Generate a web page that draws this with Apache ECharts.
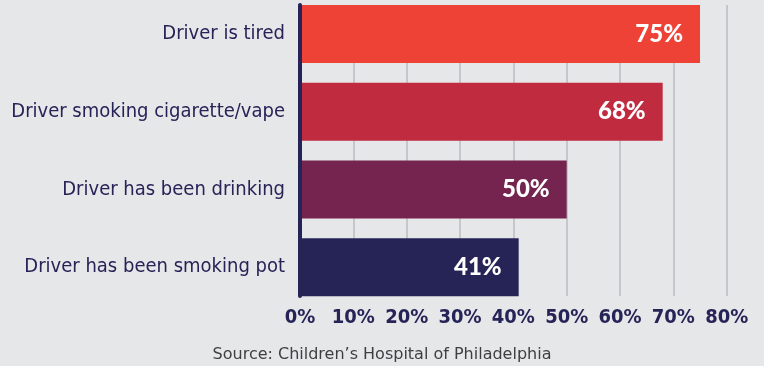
<!DOCTYPE html>
<html>
<head>
<meta charset="utf-8">
<script src="https://cdn.jsdelivr.net/npm/echarts@6/dist/echarts.min.js"></script>
<style>
  html, body { margin: 0; padding: 0; background: #e6e7e9; }
  #chart { width: 764px; height: 366px; }
</style>
</head>
<body>
<div id="chart"></div>
<script>
// 数据
var categories = ['Driver is tired', 'Driver smoking cigarette/vape', 'Driver has been drinking', 'Driver has been smoking pot']
var values = [75, 68, 50, 41]
var tickValues = [0, 10, 20, 30, 40, 50, 60, 70, 80]

var barColors = ['#ef4237', '#c12b40', '#74244f', '#262457']
var navy = '#262457'

var myEcharts = echarts.init(document.getElementById('chart'))
var option = {
  backgroundColor: '#e6e7e9',
  animation: false,
  title: {
    text: 'Source: Children\u2019s Hospital of Philadelphia',
    left: 'center',
    top: 342,
    textStyle: {
      fontFamily: 'DejaVu Sans',
      fontWeight: 'normal',
      fontSize: 16,
      color: '#3f3f42'
    }
  },
  // grid 0: 网格线 + 轴线, grid 1: 柱子
  grid: [
    { left: 300, right: 37.3, top: 5, bottom: 70, outerBoundsMode: 'none' },
    { left: 300, right: 37.3, top: -5, bottom: 60, outerBoundsMode: 'none' }
  ],
  xAxis: [
    {
      type: 'value',
      gridIndex: 0,
      min: tickValues[0],
      max: tickValues[tickValues.length - 1],
      interval: 10,
      axisLine: { show: false },
      axisTick: { show: false },
      splitLine: { show: true, lineStyle: { color: '#c6c7ca', width: 2 } },
      axisLabel: {
        margin: 12,
        color: navy,
        fontFamily: 'DejaVu Sans Condensed',
        fontWeight: 'bold',
        fontSize: 20,
        formatter: '{value}%'
      }
    },
    {
      type: 'value',
      gridIndex: 1,
      min: tickValues[0],
      max: tickValues[tickValues.length - 1],
      show: false
    }
  ],
  yAxis: [
    {
      type: 'category',
      gridIndex: 0,
      data: categories,
      inverse: true,
      z: 10,
      axisLine: { show: true, lineStyle: { color: navy, width: 4 } },
      axisTick: { show: false },
      axisLabel: { show: false },
      splitLine: { show: false }
    },
    {
      type: 'category',
      gridIndex: 1,
      data: categories,
      inverse: true,
      axisLine: { show: false },
      axisTick: { show: false },
      axisLabel: {
        margin: 15,
        color: navy,
        fontFamily: 'DejaVu Sans Condensed',
        fontSize: 20
      }
    }
  ],
  series: [
    {
      type: 'bar',
      xAxisIndex: 1,
      yAxisIndex: 1,
      barWidth: 58,
      data: values.map(function (v, i) {
        return { value: v, itemStyle: { color: barColors[i] } }
      }),
      label: {
        show: true,
        position: 'insideRight',
        distance: 17,
        color: '#ffffff',
        fontFamily: 'Lato',
        fontWeight: 900,
        fontSize: 24,
        formatter: '{c}%'
      }
    }
  ]
}
myEcharts.setOption(option)
</script>
</body>
</html>
